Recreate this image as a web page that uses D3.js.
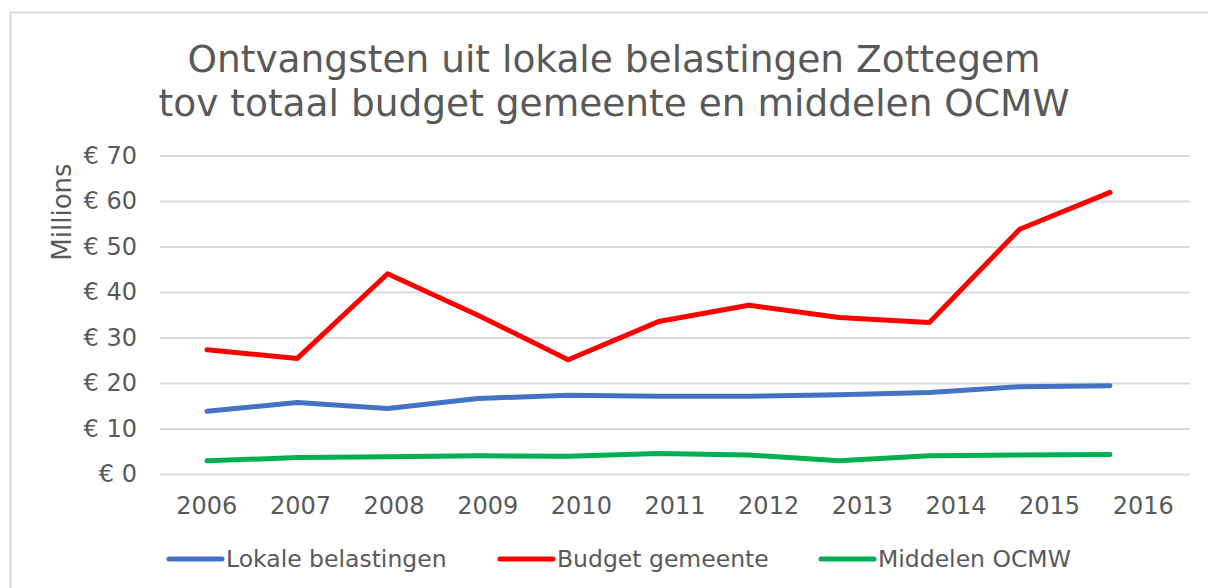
<!DOCTYPE html>
<html>
<head>
<meta charset="utf-8">
<script src="https://cdn.jsdelivr.net/npm/d3@7"></script>
<style>
  body { margin: 0; background: #fff; }
  text { font-family: "DejaVu Sans", Verdana, sans-serif; fill: #595959; }
</style>
</head>
<body>
<div id="canvas"></div>
<script>
// data (values in millions of euro)
var years = ['2006','2007','2008','2009','2010','2011','2012','2013','2014','2015','2016'];
var lokaleBelastingen = [13.8, 15.7, 14.4, 16.6, 17.3, 17.1, 17.1, 17.4, 17.9, 19.2, 19.4];
var budgetGemeente   = [27.3, 25.4, 44.0, 34.9, 25.1, 33.5, 37.1, 34.4, 33.3, 53.8, 61.9];
var middelenOCMW     = [2.9, 3.6, 3.8, 4.0, 3.9, 4.5, 4.2, 2.9, 4.0, 4.2, 4.3];
var yTicks = [0, 10, 20, 30, 40, 50, 60, 70];
var seriesNames = ['Lokale belastingen', 'Budget gemeente', 'Middelen OCMW'];
var seriesColors = ['#4472C4', '#FF0000', '#00B050'];

var W = 1208, H = 588;
var svg = d3.select('#canvas').append('svg')
    .attr('width', W)
    .attr('height', H);

// chart border (runs off the right and bottom edge)
svg.append('rect')
    .attr('x', 10.5).attr('y', 12.5)
    .attr('width', W + 20).attr('height', H + 20)
    .attr('fill', 'none')
    .attr('stroke', '#D9D9D9')
    .attr('stroke-width', 2);

// title
var title = svg.append('text')
    .attr('text-anchor', 'middle')
    .attr('font-size', 37.5);
title.append('tspan').attr('x', 614).attr('y', 72).text('Ontvangsten uit lokale belastingen Zottegem');
title.append('tspan').attr('x', 614).attr('y', 116).text('tov totaal budget gemeente en middelen OCMW');

// scales
var left = 160, right = 1190;
var scaleY = d3.scaleLinear().domain([0, 70]).range([474, 155.5]);
var scaleBandX = d3.scaleBand().domain(years).range([left, right]);
var scaleX = d3.scalePoint().domain(years).range([207, 1110]);

// gridlines + y labels
var axisY = d3.axisLeft(scaleY)
    .tickValues(yTicks)
    .tickSize(-(right - left))
    .tickPadding(23)
    .tickFormat(function(d){ return '€ ' + d; });

var gy = svg.append('g')
    .attr('transform', 'translate(' + left + ',0)')
    .call(axisY);
gy.select('.domain').remove();
gy.selectAll('.tick line').attr('stroke', '#D9D9D9').attr('stroke-width', 2);
gy.selectAll('.tick text')
    .attr('font-size', 24)
    .attr('font-family', '"DejaVu Sans", Verdana, sans-serif')
    .attr('fill', '#595959');

// x labels
var axisX = d3.axisBottom(scaleBandX).tickSize(0).tickPadding(0);
var gx = svg.append('g')
    .attr('transform', 'translate(0,' + 497 + ')')
    .call(axisX);
gx.select('.domain').remove();
gx.selectAll('.tick text')
    .attr('font-size', 24)
    .attr('font-family', '"DejaVu Sans", Verdana, sans-serif')
    .attr('fill', '#595959');

// y axis title
svg.append('text')
    .attr('transform', 'translate(71,212) rotate(-90)')
    .attr('text-anchor', 'middle')
    .attr('font-size', 26)
    .text('Millions');

// lines
var line = d3.line()
    .x(function(d, i){ return scaleX(years[i]); })
    .y(function(d){ return scaleY(d); });

[lokaleBelastingen, budgetGemeente, middelenOCMW].forEach(function(s, i){
    svg.append('path')
        .datum(s)
        .attr('d', line)
        .attr('fill', 'none')
        .attr('stroke', seriesColors[i])
        .attr('stroke-width', 5)
        .attr('stroke-linecap', 'round')
        .attr('stroke-linejoin', 'round');
});

// legend
var legendX = [169, 500, 821];
seriesNames.forEach(function(name, i){
    var g = svg.append('g').attr('transform', 'translate(' + legendX[i] + ',559)');
    g.append('line')
        .attr('x1', 0).attr('x2', 53)
        .attr('stroke', seriesColors[i])
        .attr('stroke-width', 5)
        .attr('stroke-linecap', 'round');
    g.append('text')
        .attr('x', 57).attr('y', 8)
        .attr('font-size', 23.5)
        .text(name);
});
</script>
</body>
</html>
